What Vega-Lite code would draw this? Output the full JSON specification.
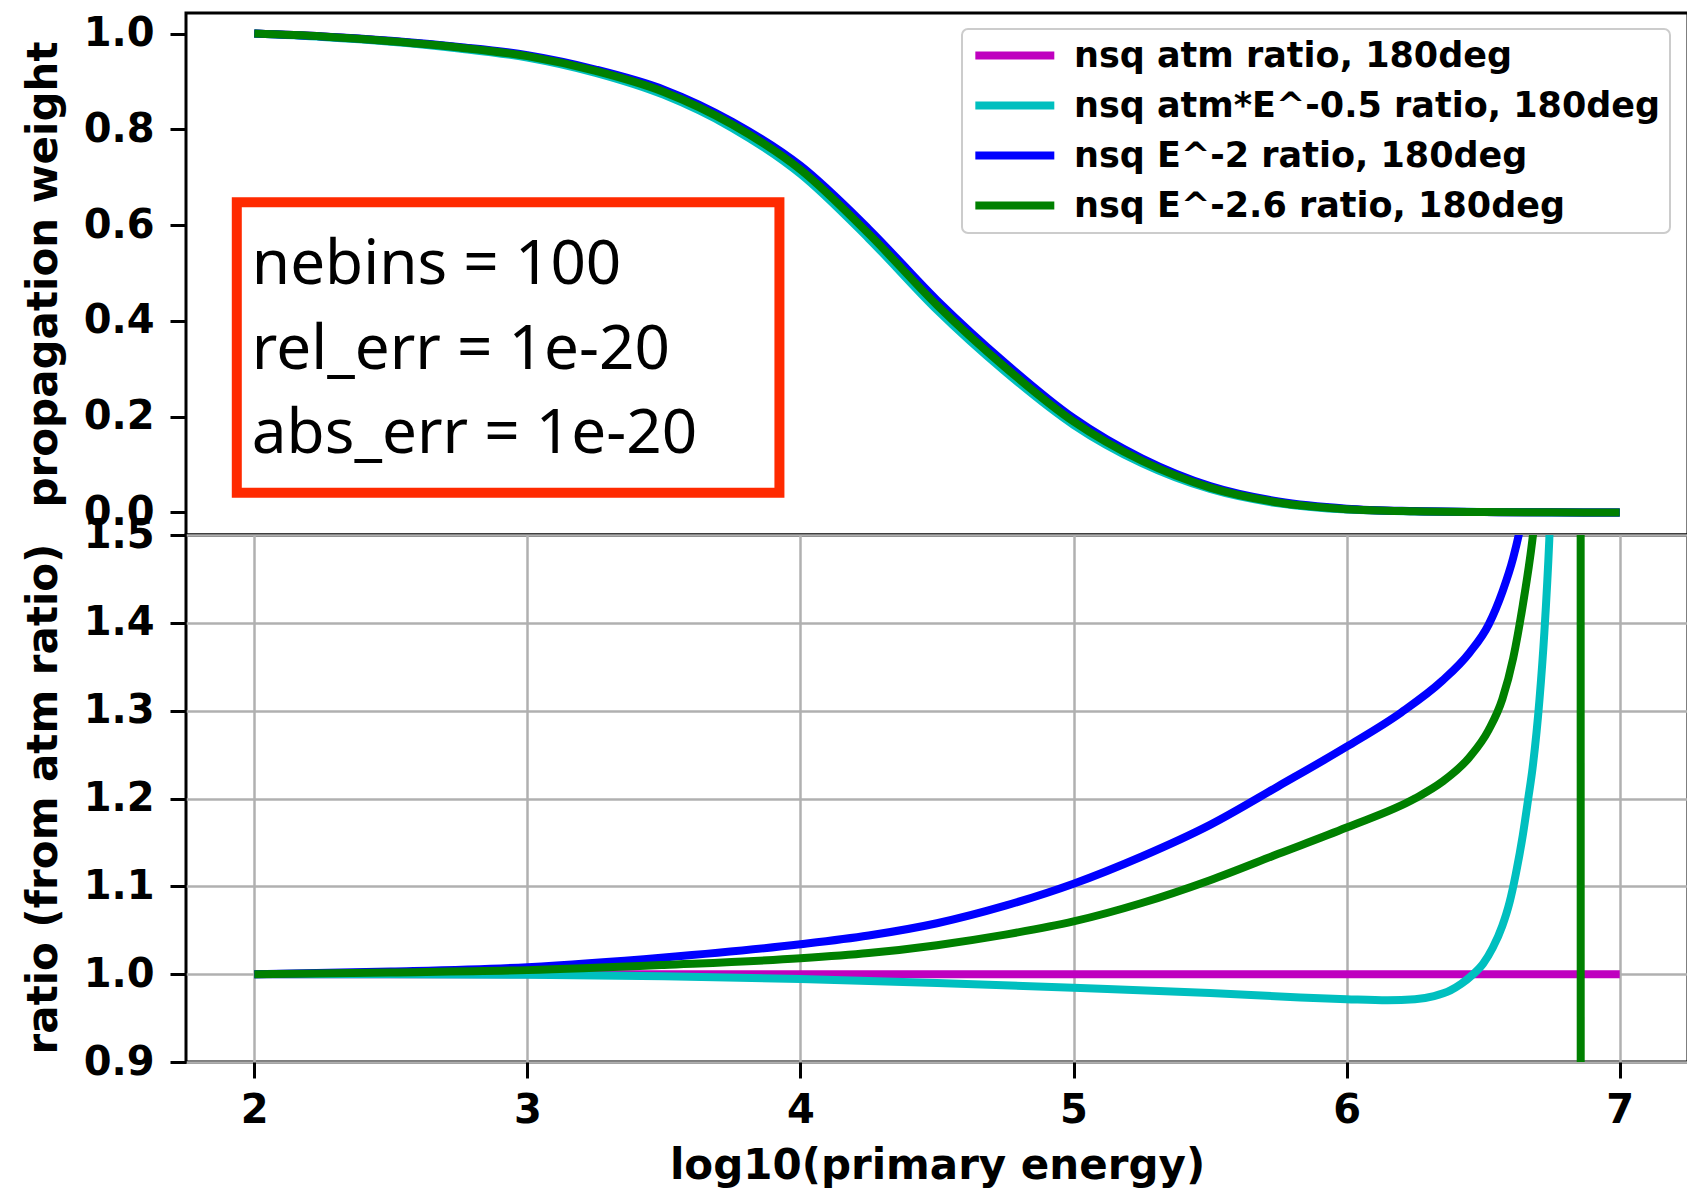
{
  "$schema": "https://vega.github.io/schema/vega-lite/v6.json",
  "padding": {"left": 20, "top": 11, "right": 0, "bottom": 0},
  "autosize": {"type": "pad"},
  "background": "white",
  "config": {
    "font": "DejaVu Sans",
    "view": {"stroke": "black", "strokeWidth": 3},
    "axis": {
      "labelFont": "DejaVu Sans", "labelFontWeight": "bold", "labelFontSize": 40, "labelColor": "black",
      "titleFont": "DejaVu Sans", "titleFontWeight": "bold", "titleFontSize": 42, "titleColor": "black",
      "tickColor": "black", "tickWidth": 3, "tickSize": 16, "domain": false,
      "gridColor": "#b0b0b0", "gridWidth": 2.5, "gridOpacity": 1, "labelPadding": 16
    },
    "legend": {
      "orient": "none", "legendX": 776, "legendY": 16, "direction": "vertical",
      "labelFont": "DejaVu Sans", "labelFontWeight": "bold", "labelFontSize": 35, "labelColor": "black", "labelLimit": 900,
      "symbolType": "M-1,0L5,0", "symbolSize": 693, "symbolStrokeWidth": 8, "labelOffset": 68,
      "padding": 9, "rowPadding": 14, "strokeColor": "#cccccc", "strokeWidth": 2, "cornerRadius": 6, "fillColor": "white"
    }
  },
  "datasets": {
    "w": [
      {"x": 2.0, "y": 1.0, "s": "nsq atm ratio, 180deg"},
      {"x": 2.25, "y": 0.994, "s": "nsq atm ratio, 180deg"},
      {"x": 2.5, "y": 0.984, "s": "nsq atm ratio, 180deg"},
      {"x": 2.75, "y": 0.971, "s": "nsq atm ratio, 180deg"},
      {"x": 3.0, "y": 0.953, "s": "nsq atm ratio, 180deg"},
      {"x": 3.25, "y": 0.922, "s": "nsq atm ratio, 180deg"},
      {"x": 3.5, "y": 0.878, "s": "nsq atm ratio, 180deg"},
      {"x": 3.75, "y": 0.81, "s": "nsq atm ratio, 180deg"},
      {"x": 4.0, "y": 0.716, "s": "nsq atm ratio, 180deg"},
      {"x": 4.25, "y": 0.582, "s": "nsq atm ratio, 180deg"},
      {"x": 4.5, "y": 0.433, "s": "nsq atm ratio, 180deg"},
      {"x": 4.75, "y": 0.303, "s": "nsq atm ratio, 180deg"},
      {"x": 5.0, "y": 0.19, "s": "nsq atm ratio, 180deg"},
      {"x": 5.25, "y": 0.108, "s": "nsq atm ratio, 180deg"},
      {"x": 5.5, "y": 0.052, "s": "nsq atm ratio, 180deg"},
      {"x": 5.75, "y": 0.021, "s": "nsq atm ratio, 180deg"},
      {"x": 6.0, "y": 0.007, "s": "nsq atm ratio, 180deg"},
      {"x": 6.25, "y": 0.0025, "s": "nsq atm ratio, 180deg"},
      {"x": 6.5, "y": 0.001, "s": "nsq atm ratio, 180deg"},
      {"x": 6.75, "y": 0.0003, "s": "nsq atm ratio, 180deg"},
      {"x": 7.0, "y": 0.0, "s": "nsq atm ratio, 180deg"},
      {"x": 2.0, "y": 1.0, "s": "nsq atm*E^-0.5 ratio, 180deg"},
      {"x": 2.25, "y": 0.993, "s": "nsq atm*E^-0.5 ratio, 180deg"},
      {"x": 2.5, "y": 0.983, "s": "nsq atm*E^-0.5 ratio, 180deg"},
      {"x": 2.75, "y": 0.969, "s": "nsq atm*E^-0.5 ratio, 180deg"},
      {"x": 3.0, "y": 0.95, "s": "nsq atm*E^-0.5 ratio, 180deg"},
      {"x": 3.25, "y": 0.918, "s": "nsq atm*E^-0.5 ratio, 180deg"},
      {"x": 3.5, "y": 0.872, "s": "nsq atm*E^-0.5 ratio, 180deg"},
      {"x": 3.75, "y": 0.803, "s": "nsq atm*E^-0.5 ratio, 180deg"},
      {"x": 4.0, "y": 0.707, "s": "nsq atm*E^-0.5 ratio, 180deg"},
      {"x": 4.25, "y": 0.572, "s": "nsq atm*E^-0.5 ratio, 180deg"},
      {"x": 4.5, "y": 0.423, "s": "nsq atm*E^-0.5 ratio, 180deg"},
      {"x": 4.75, "y": 0.294, "s": "nsq atm*E^-0.5 ratio, 180deg"},
      {"x": 5.0, "y": 0.183, "s": "nsq atm*E^-0.5 ratio, 180deg"},
      {"x": 5.25, "y": 0.103, "s": "nsq atm*E^-0.5 ratio, 180deg"},
      {"x": 5.5, "y": 0.049, "s": "nsq atm*E^-0.5 ratio, 180deg"},
      {"x": 5.75, "y": 0.019, "s": "nsq atm*E^-0.5 ratio, 180deg"},
      {"x": 6.0, "y": 0.006, "s": "nsq atm*E^-0.5 ratio, 180deg"},
      {"x": 6.25, "y": 0.002, "s": "nsq atm*E^-0.5 ratio, 180deg"},
      {"x": 6.5, "y": 0.001, "s": "nsq atm*E^-0.5 ratio, 180deg"},
      {"x": 6.75, "y": 0.0002, "s": "nsq atm*E^-0.5 ratio, 180deg"},
      {"x": 7.0, "y": 0.0, "s": "nsq atm*E^-0.5 ratio, 180deg"},
      {"x": 2.0, "y": 1.0, "s": "nsq E^-2 ratio, 180deg"},
      {"x": 2.25, "y": 0.994, "s": "nsq E^-2 ratio, 180deg"},
      {"x": 2.5, "y": 0.985, "s": "nsq E^-2 ratio, 180deg"},
      {"x": 2.75, "y": 0.972, "s": "nsq E^-2 ratio, 180deg"},
      {"x": 3.0, "y": 0.955, "s": "nsq E^-2 ratio, 180deg"},
      {"x": 3.25, "y": 0.925, "s": "nsq E^-2 ratio, 180deg"},
      {"x": 3.5, "y": 0.883, "s": "nsq E^-2 ratio, 180deg"},
      {"x": 3.75, "y": 0.816, "s": "nsq E^-2 ratio, 180deg"},
      {"x": 4.0, "y": 0.724, "s": "nsq E^-2 ratio, 180deg"},
      {"x": 4.25, "y": 0.592, "s": "nsq E^-2 ratio, 180deg"},
      {"x": 4.5, "y": 0.443, "s": "nsq E^-2 ratio, 180deg"},
      {"x": 4.75, "y": 0.312, "s": "nsq E^-2 ratio, 180deg"},
      {"x": 5.0, "y": 0.197, "s": "nsq E^-2 ratio, 180deg"},
      {"x": 5.25, "y": 0.113, "s": "nsq E^-2 ratio, 180deg"},
      {"x": 5.5, "y": 0.055, "s": "nsq E^-2 ratio, 180deg"},
      {"x": 5.75, "y": 0.023, "s": "nsq E^-2 ratio, 180deg"},
      {"x": 6.0, "y": 0.008, "s": "nsq E^-2 ratio, 180deg"},
      {"x": 6.25, "y": 0.003, "s": "nsq E^-2 ratio, 180deg"},
      {"x": 6.5, "y": 0.001, "s": "nsq E^-2 ratio, 180deg"},
      {"x": 6.75, "y": 0.0003, "s": "nsq E^-2 ratio, 180deg"},
      {"x": 7.0, "y": 0.0, "s": "nsq E^-2 ratio, 180deg"},
      {"x": 2.0, "y": 1.0, "s": "nsq E^-2.6 ratio, 180deg"},
      {"x": 2.25, "y": 0.994, "s": "nsq E^-2.6 ratio, 180deg"},
      {"x": 2.5, "y": 0.984, "s": "nsq E^-2.6 ratio, 180deg"},
      {"x": 2.75, "y": 0.971, "s": "nsq E^-2.6 ratio, 180deg"},
      {"x": 3.0, "y": 0.953, "s": "nsq E^-2.6 ratio, 180deg"},
      {"x": 3.25, "y": 0.922, "s": "nsq E^-2.6 ratio, 180deg"},
      {"x": 3.5, "y": 0.878, "s": "nsq E^-2.6 ratio, 180deg"},
      {"x": 3.75, "y": 0.81, "s": "nsq E^-2.6 ratio, 180deg"},
      {"x": 4.0, "y": 0.716, "s": "nsq E^-2.6 ratio, 180deg"},
      {"x": 4.25, "y": 0.582, "s": "nsq E^-2.6 ratio, 180deg"},
      {"x": 4.5, "y": 0.433, "s": "nsq E^-2.6 ratio, 180deg"},
      {"x": 4.75, "y": 0.303, "s": "nsq E^-2.6 ratio, 180deg"},
      {"x": 5.0, "y": 0.19, "s": "nsq E^-2.6 ratio, 180deg"},
      {"x": 5.25, "y": 0.108, "s": "nsq E^-2.6 ratio, 180deg"},
      {"x": 5.5, "y": 0.052, "s": "nsq E^-2.6 ratio, 180deg"},
      {"x": 5.75, "y": 0.021, "s": "nsq E^-2.6 ratio, 180deg"},
      {"x": 6.0, "y": 0.007, "s": "nsq E^-2.6 ratio, 180deg"},
      {"x": 6.25, "y": 0.0025, "s": "nsq E^-2.6 ratio, 180deg"},
      {"x": 6.5, "y": 0.001, "s": "nsq E^-2.6 ratio, 180deg"},
      {"x": 6.75, "y": 0.0003, "s": "nsq E^-2.6 ratio, 180deg"},
      {"x": 7.0, "y": 0.0, "s": "nsq E^-2.6 ratio, 180deg"}
    ],
    "r": [
      {"x": 2.0, "y": 1.0, "s": "nsq atm ratio, 180deg"},
      {"x": 3.0, "y": 1.0, "s": "nsq atm ratio, 180deg"},
      {"x": 4.0, "y": 1.0, "s": "nsq atm ratio, 180deg"},
      {"x": 5.0, "y": 1.0, "s": "nsq atm ratio, 180deg"},
      {"x": 6.0, "y": 1.0, "s": "nsq atm ratio, 180deg"},
      {"x": 7.0, "y": 1.0, "s": "nsq atm ratio, 180deg"},
      {"x": 2.0, "y": 1.0, "s": "nsq atm*E^-0.5 ratio, 180deg"},
      {"x": 2.5, "y": 1.0, "s": "nsq atm*E^-0.5 ratio, 180deg"},
      {"x": 3.0, "y": 0.9993, "s": "nsq atm*E^-0.5 ratio, 180deg"},
      {"x": 3.5, "y": 0.9975, "s": "nsq atm*E^-0.5 ratio, 180deg"},
      {"x": 4.0, "y": 0.9945, "s": "nsq atm*E^-0.5 ratio, 180deg"},
      {"x": 4.5, "y": 0.99, "s": "nsq atm*E^-0.5 ratio, 180deg"},
      {"x": 5.0, "y": 0.9845, "s": "nsq atm*E^-0.5 ratio, 180deg"},
      {"x": 5.5, "y": 0.9785, "s": "nsq atm*E^-0.5 ratio, 180deg"},
      {"x": 5.83, "y": 0.9735, "s": "nsq atm*E^-0.5 ratio, 180deg"},
      {"x": 6.0, "y": 0.9715, "s": "nsq atm*E^-0.5 ratio, 180deg"},
      {"x": 6.15, "y": 0.9702, "s": "nsq atm*E^-0.5 ratio, 180deg"},
      {"x": 6.25, "y": 0.9715, "s": "nsq atm*E^-0.5 ratio, 180deg"},
      {"x": 6.32, "y": 0.975, "s": "nsq atm*E^-0.5 ratio, 180deg"},
      {"x": 6.38, "y": 0.9815, "s": "nsq atm*E^-0.5 ratio, 180deg"},
      {"x": 6.42, "y": 0.989, "s": "nsq atm*E^-0.5 ratio, 180deg"},
      {"x": 6.46, "y": 0.999, "s": "nsq atm*E^-0.5 ratio, 180deg"},
      {"x": 6.5, "y": 1.012, "s": "nsq atm*E^-0.5 ratio, 180deg"},
      {"x": 6.535, "y": 1.03, "s": "nsq atm*E^-0.5 ratio, 180deg"},
      {"x": 6.57, "y": 1.055, "s": "nsq atm*E^-0.5 ratio, 180deg"},
      {"x": 6.596, "y": 1.081, "s": "nsq atm*E^-0.5 ratio, 180deg"},
      {"x": 6.62, "y": 1.115, "s": "nsq atm*E^-0.5 ratio, 180deg"},
      {"x": 6.645, "y": 1.158, "s": "nsq atm*E^-0.5 ratio, 180deg"},
      {"x": 6.665, "y": 1.2, "s": "nsq atm*E^-0.5 ratio, 180deg"},
      {"x": 6.681, "y": 1.235, "s": "nsq atm*E^-0.5 ratio, 180deg"},
      {"x": 6.706, "y": 1.312, "s": "nsq atm*E^-0.5 ratio, 180deg"},
      {"x": 6.724, "y": 1.389, "s": "nsq atm*E^-0.5 ratio, 180deg"},
      {"x": 6.742, "y": 1.494, "s": "nsq atm*E^-0.5 ratio, 180deg"},
      {"x": 6.76, "y": 1.65, "s": "nsq atm*E^-0.5 ratio, 180deg"},
      {"x": 6.8, "y": 2.2, "s": "nsq atm*E^-0.5 ratio, 180deg"},
      {"x": 7.0, "y": 4.0, "s": "nsq atm*E^-0.5 ratio, 180deg"},
      {"x": 2.0, "y": 1.0, "s": "nsq E^-2 ratio, 180deg"},
      {"x": 2.5, "y": 1.003, "s": "nsq E^-2 ratio, 180deg"},
      {"x": 3.0, "y": 1.008, "s": "nsq E^-2 ratio, 180deg"},
      {"x": 3.5, "y": 1.019, "s": "nsq E^-2 ratio, 180deg"},
      {"x": 4.0, "y": 1.034, "s": "nsq E^-2 ratio, 180deg"},
      {"x": 4.25, "y": 1.044, "s": "nsq E^-2 ratio, 180deg"},
      {"x": 4.5, "y": 1.058, "s": "nsq E^-2 ratio, 180deg"},
      {"x": 4.75, "y": 1.078, "s": "nsq E^-2 ratio, 180deg"},
      {"x": 5.0, "y": 1.103, "s": "nsq E^-2 ratio, 180deg"},
      {"x": 5.25, "y": 1.134, "s": "nsq E^-2 ratio, 180deg"},
      {"x": 5.5, "y": 1.17, "s": "nsq E^-2 ratio, 180deg"},
      {"x": 5.75, "y": 1.214, "s": "nsq E^-2 ratio, 180deg"},
      {"x": 6.0, "y": 1.259, "s": "nsq E^-2 ratio, 180deg"},
      {"x": 6.2, "y": 1.298, "s": "nsq E^-2 ratio, 180deg"},
      {"x": 6.35, "y": 1.334, "s": "nsq E^-2 ratio, 180deg"},
      {"x": 6.45, "y": 1.366, "s": "nsq E^-2 ratio, 180deg"},
      {"x": 6.52, "y": 1.398, "s": "nsq E^-2 ratio, 180deg"},
      {"x": 6.57, "y": 1.435, "s": "nsq E^-2 ratio, 180deg"},
      {"x": 6.61, "y": 1.474, "s": "nsq E^-2 ratio, 180deg"},
      {"x": 6.64, "y": 1.515, "s": "nsq E^-2 ratio, 180deg"},
      {"x": 6.68, "y": 1.6, "s": "nsq E^-2 ratio, 180deg"},
      {"x": 6.75, "y": 2.0, "s": "nsq E^-2 ratio, 180deg"},
      {"x": 6.85, "y": 3.5, "s": "nsq E^-2 ratio, 180deg"},
      {"x": 7.0, "y": 8.0, "s": "nsq E^-2 ratio, 180deg"},
      {"x": 2.0, "y": 1.0, "s": "nsq E^-2.6 ratio, 180deg"},
      {"x": 2.5, "y": 1.002, "s": "nsq E^-2.6 ratio, 180deg"},
      {"x": 3.0, "y": 1.0046, "s": "nsq E^-2.6 ratio, 180deg"},
      {"x": 3.5, "y": 1.0105, "s": "nsq E^-2.6 ratio, 180deg"},
      {"x": 4.0, "y": 1.018, "s": "nsq E^-2.6 ratio, 180deg"},
      {"x": 4.25, "y": 1.024, "s": "nsq E^-2.6 ratio, 180deg"},
      {"x": 4.5, "y": 1.033, "s": "nsq E^-2.6 ratio, 180deg"},
      {"x": 4.75, "y": 1.045, "s": "nsq E^-2.6 ratio, 180deg"},
      {"x": 5.0, "y": 1.06, "s": "nsq E^-2.6 ratio, 180deg"},
      {"x": 5.25, "y": 1.081, "s": "nsq E^-2.6 ratio, 180deg"},
      {"x": 5.5, "y": 1.107, "s": "nsq E^-2.6 ratio, 180deg"},
      {"x": 5.75, "y": 1.137, "s": "nsq E^-2.6 ratio, 180deg"},
      {"x": 6.0, "y": 1.167, "s": "nsq E^-2.6 ratio, 180deg"},
      {"x": 6.25, "y": 1.2, "s": "nsq E^-2.6 ratio, 180deg"},
      {"x": 6.35, "y": 1.219, "s": "nsq E^-2.6 ratio, 180deg"},
      {"x": 6.45, "y": 1.247, "s": "nsq E^-2.6 ratio, 180deg"},
      {"x": 6.52, "y": 1.278, "s": "nsq E^-2.6 ratio, 180deg"},
      {"x": 6.57, "y": 1.313, "s": "nsq E^-2.6 ratio, 180deg"},
      {"x": 6.61, "y": 1.36, "s": "nsq E^-2.6 ratio, 180deg"},
      {"x": 6.645, "y": 1.42, "s": "nsq E^-2.6 ratio, 180deg"},
      {"x": 6.68, "y": 1.494, "s": "nsq E^-2.6 ratio, 180deg"},
      {"x": 6.72, "y": 1.62, "s": "nsq E^-2.6 ratio, 180deg"},
      {"x": 6.8, "y": 2.5, "s": "nsq E^-2.6 ratio, 180deg"},
      {"x": 6.85, "y": 20, "s": "nsq E^-2.6 ratio, 180deg"},
      {"x": 6.865, "y": -20, "s": "nsq E^-2.6 ratio, 180deg"},
      {"x": 6.9, "y": -10, "s": "nsq E^-2.6 ratio, 180deg"},
      {"x": 7.0, "y": -5, "s": "nsq E^-2.6 ratio, 180deg"}
    ]
  },
  "bounds": "flush",
  "spacing": 0,
  "resolve": {"scale": {"color": "independent"}, "legend": {"color": "independent"}},
  "vconcat": [
    {
      "width": 1502,
      "height": 522,
      "layer": [
        {
          "data": {"name": "w"},
          "mark": {"type": "line", "strokeWidth": 8, "interpolate": "monotone", "clip": true},
          "encoding": {
            "x": {"field": "x", "type": "quantitative", "scale": {"domain": [1.75, 7.25], "nice": false, "zero": false}, "axis": null},
            "y": {"field": "y", "type": "quantitative", "scale": {"domain": [-0.047, 1.043], "nice": false, "zero": false},
                  "axis": {"values": [0, 0.2, 0.4, 0.6, 0.8, 1.0], "format": ".1f", "grid": false, "title": "propagation weight", "titleX": -130, "titleBaseline": "alphabetic"}},
            "color": {"field": "s", "type": "nominal",
                      "scale": {"domain": ["nsq atm ratio, 180deg", "nsq atm*E^-0.5 ratio, 180deg", "nsq E^-2 ratio, 180deg", "nsq E^-2.6 ratio, 180deg"], "range": ["#bf00bf", "#00bfbf", "#0000ff", "#008000"]},
                      "legend": {"title": null}}
          }
        },
        {
          "data": {"values": [{}]},
          "mark": {"type": "rect", "filled": false, "stroke": "#ff2a00", "strokeWidth": 10},
          "encoding": {"x": {"datum": 1.936}, "x2": {"datum": 3.923}, "y": {"datum": 0.648}, "y2": {"datum": 0.041}}
        },
        {
          "data": {"values": [{}]},
          "mark": {"type": "text", "font": "Noto Sans", "fontSize": 62, "align": "left", "baseline": "alphabetic", "lineHeight": 84.5, "color": "black"},
          "encoding": {"x": {"datum": 1.991}, "y": {"datum": 0.477}, "text": {"value": ["nebins = 100", "rel_err = 1e-20", "abs_err = 1e-20"]}}
        }
      ]
    },
    {
      "width": 1502,
      "height": 527,
      "data": {"name": "r"},
      "mark": {"type": "line", "strokeWidth": 8, "interpolate": "monotone", "clip": true},
      "encoding": {
        "x": {"field": "x", "type": "quantitative", "scale": {"domain": [1.75, 7.25], "nice": false, "zero": false},
              "axis": {"values": [2, 3, 4, 5, 6, 7], "format": "d", "grid": true, "title": "log10(primary energy)", "labelBaseline": "alphabetic", "labelPadding": 44, "titleY": 116, "titleBaseline": "alphabetic"}},
        "y": {"field": "y", "type": "quantitative", "scale": {"domain": [0.9, 1.5], "nice": false, "zero": false},
              "axis": {"values": [0.9, 1.0, 1.1, 1.2, 1.3, 1.4, 1.5], "format": ".1f", "grid": true, "title": "ratio (from atm ratio)", "titleX": -130, "titleBaseline": "alphabetic"}},
        "color": {"field": "s", "type": "nominal",
                  "scale": {"domain": ["nsq atm ratio, 180deg", "nsq atm*E^-0.5 ratio, 180deg", "nsq E^-2 ratio, 180deg", "nsq E^-2.6 ratio, 180deg"], "range": ["#bf00bf", "#00bfbf", "#0000ff", "#008000"]},
                  "legend": null}
      }
    }
  ]
}
